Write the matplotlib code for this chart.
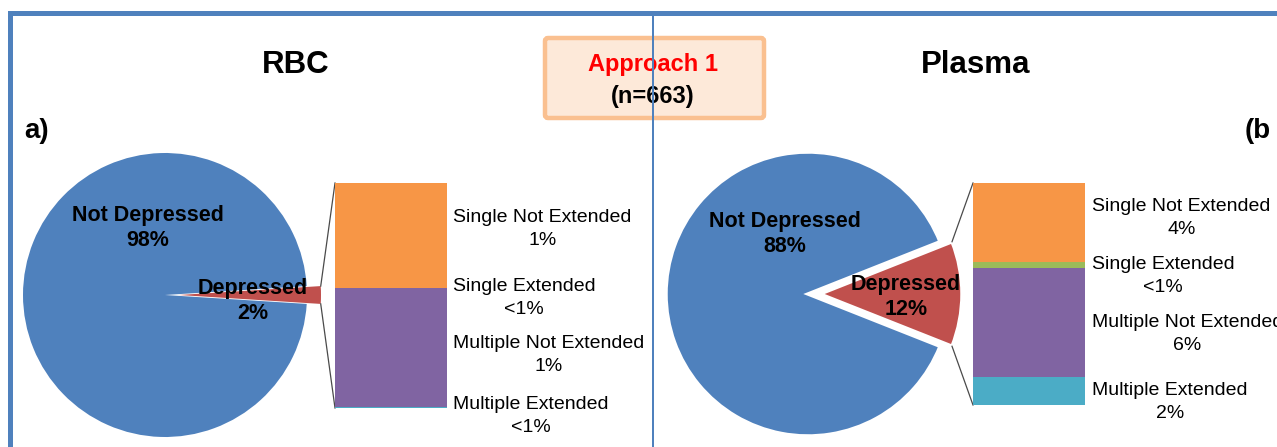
import numpy as np
import matplotlib
matplotlib.use("Agg")
import matplotlib.pyplot as plt
from matplotlib.patches import Rectangle, FancyBboxPatch

plt.rcParams['font.family'] = ['Liberation Sans', 'DejaVu Sans']

# data
pieLabels = ["Depressed", "Not Depressed"]
rbcPie = [2, 98]
plasmaPie = [12, 88]

barLabels = ["Single Not Extended", "Single Extended", "Multiple Not Extended", "Multiple Extended"]
rbcBar = [0.95, 0.0, 1.08, 0.01]
plasmaBar = [4.27, 0.32, 5.90, 1.51]
rbcBarText = ["1%", "<1%", "1%", "<1%"]
plasmaBarText = ["4%", "<1%", "6%", "2%"]

blue = "#4F81BD"
red = "#C0504D"
barColors = ["#F79646", "#9BBB59", "#8064A2", "#4BACC6"]

W, H = 1277, 447
fig = plt.figure(figsize=(W / 100, H / 100), dpi=100)
ax = fig.add_axes([0, 0, 1, 1])


def drawPanel(values, center, radius, explodePx, whiteEdge, barRect, barValues, barText, labelX, labelYs,
              notDepPos, depPos):
    depShare = values[0] / sum(values) * 360
    # pie is drawn in pixel-like data units, so explode is an offset in pixels
    ax.pie(values, colors=[red, blue], startangle=-depShare / 2, center=center,
           radius=radius, explode=[explodePx, 0], counterclock=True,
           wedgeprops=dict(edgecolor="white" if whiteEdge else "none",
                           linewidth=2.5 if whiteEdge else 0))
    ax.text(notDepPos[0], H - notDepPos[1], f"Not Depressed\n{values[1]}%", ha="center", va="center",
            fontsize=15.5, fontweight="bold", linespacing=1.2)
    ax.text(depPos[0], H - depPos[1], f"Depressed\n{values[0]}%", ha="center", va="center",
            fontsize=15.5, fontweight="bold", linespacing=1.3)

    # stacked bar in its own axes
    bx, by, bw, bh = barRect
    bax = fig.add_axes([bx / W, (H - by - bh) / H, bw / W, bh / H])
    bottom = sum(barValues)
    for v, c in zip(barValues, barColors):
        bottom -= v
        bax.bar(0, v, bottom=bottom, width=1, color=c, linewidth=0)
    bax.set_xlim(-0.5, 0.5)
    bax.set_ylim(0, sum(barValues))
    bax.axis("off")

    # connectors from wedge corners to bar corners
    half = np.radians(depShare / 2)
    cx, cy = center[0] + explodePx, center[1]
    for sgn, yb in [(1, H - by), (-1, H - by - bh)]:
        px = cx + radius * np.cos(half)
        py = cy + sgn * radius * np.sin(half)
        ax.plot([px, bx], [py, yb], color="#4a4a4a", lw=0.9, zorder=1)

    for name, t, ly in zip(barLabels, barText, labelYs):
        ax.text(labelX, H - ly, f"{name}\n{t}", ha="left", va="center", multialignment="center",
                fontsize=14, linespacing=1.45)


drawPanel(rbcPie, (165, H - 295), 142, 14, False, (335, 183, 112, 225), rbcBar, rbcBarText,
          453, [229, 298, 355, 416], (148, 228), (253, 301))
drawPanel(plasmaPie, (808, H - 294), 142, 12, True, (973, 183, 112, 222), plasmaBar, plasmaBarText,
          1092, [218, 276, 334, 402], (785, 234), (906, 297))

ax.text(296, H - 65, "RBC", ha="center", va="center", fontsize=22.5, fontweight="bold")
ax.text(976, H - 65, "Plasma", ha="center", va="center", fontsize=22.5, fontweight="bold")
ax.text(24, H - 131, "a)", ha="left", va="center", fontsize=20, fontweight="bold")
ax.text(1245, H - 131, "(b", ha="left", va="center", fontsize=20, fontweight="bold")

# center box
box = FancyBboxPatch((545, H - 118), 219, 80, boxstyle="round,pad=0,rounding_size=3",
                     facecolor="#FDE9D9", edgecolor="#FAC090", linewidth=3.2, zorder=3)
ax.add_patch(box)
ax.text(653, H - 64, "Approach 1", ha="center", va="center", fontsize=17, fontweight="bold",
        color="#FF0000", zorder=4)
ax.text(653, H - 96, "(n=663)", ha="center", va="center", fontsize=17, fontweight="bold", zorder=4)

# frame lines
ax.add_patch(Rectangle((8, H - 16), W - 8, 5, facecolor=blue, edgecolor="none", zorder=5))
ax.add_patch(Rectangle((8, 0), 5, H - 11, facecolor=blue, edgecolor="none", zorder=5))
ax.add_patch(Rectangle((652, 0), 2, H - 14, facecolor=blue, edgecolor="none", zorder=5))

ax.set_xlim(0, W)
ax.set_ylim(0, H)
ax.set_aspect("auto")
ax.axis("off")

fig.savefig("out.png", dpi=100)
